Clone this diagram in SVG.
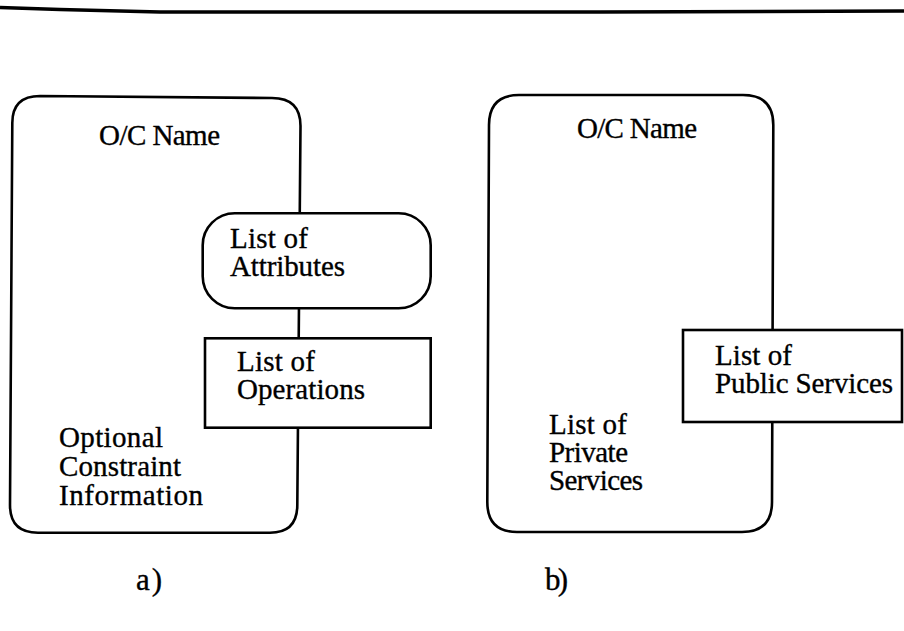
<svg xmlns="http://www.w3.org/2000/svg" width="904" height="631" viewBox="0 0 904 631">
<style>
.ln{fill:none;stroke:#000;stroke-width:2.6;stroke-linejoin:round}
.top{stroke-width:3.4}
.bx{fill:#fff;stroke:#000;stroke-width:2.6}
text{font-family:"Liberation Serif","Times New Roman",serif;font-size:29px;fill:#000;stroke:#000;stroke-width:0.35}
.cap{font-size:31px}
</style>
<rect width="904" height="631" fill="#fff"/>
<polyline class="ln top" points="0,7.5 60,9.5 160,12 600,12 904,11"/>
<g id="objA">
<path class="ln" d="M40,96 L272,98 Q300.5,98 300.5,126 L297.3,505 Q297.3,532.7 270,532.7 L38,532.7 Q10,532.7 10,505 L12.3,123 Q12.3,96 40,96 Z"/>
<text x="99" y="145" textLength="121" lengthAdjust="spacing">O/C Name</text>
<text x="59" y="447" textLength="104" lengthAdjust="spacing">Optional</text>
<text x="59" y="476" textLength="122" lengthAdjust="spacing">Constraint</text>
<text x="59" y="505" textLength="144" lengthAdjust="spacing">Information</text>
</g>
<g id="attributes">
<rect class="bx" x="202.7" y="213.3" width="228" height="95" rx="32" ry="32"/>
<text x="230" y="248" textLength="78" lengthAdjust="spacing">List of</text>
<text x="230" y="276" textLength="115" lengthAdjust="spacing">Attributes</text>
</g>
<g id="operations">
<rect class="bx" x="205" y="338.3" width="225.7" height="89.4"/>
<text x="237" y="371" textLength="78" lengthAdjust="spacing">List of</text>
<text x="237" y="399" textLength="128" lengthAdjust="spacing">Operations</text>
</g>
<g id="objB">
<path class="ln" d="M519,95 L743,95 Q773.3,95 773.3,125 L772,502 Q772,532 742,532 L517,532 Q487.3,532 487.3,502 L489,125 Q489,95 519,95 Z"/>
<text x="577" y="138" textLength="120" lengthAdjust="spacing">O/C Name</text>
<text x="549" y="434" textLength="78" lengthAdjust="spacing">List of</text>
<text x="549" y="462" textLength="79" lengthAdjust="spacing">Private</text>
<text x="549" y="490" textLength="94" lengthAdjust="spacing">Services</text>
</g>
<g id="publicServices">
<rect class="bx" x="683" y="330" width="219" height="92"/>
<text x="715" y="365" textLength="77" lengthAdjust="spacing">List of</text>
<text x="715" y="393" textLength="178" lengthAdjust="spacing">Public Services</text>
</g>
<g id="connectors"/>
<g id="captions">
<text class="cap" x="136" y="590" textLength="26" lengthAdjust="spacing">a)</text>
<text class="cap" x="545" y="590" textLength="23" lengthAdjust="spacing">b)</text>
</g>
</svg>
